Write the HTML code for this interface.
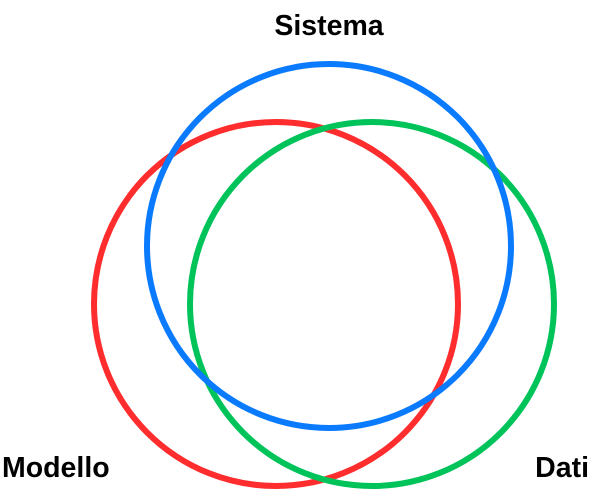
<!DOCTYPE html>
<html><head><style>
body{margin:0;background:#fff;}
svg{display:block;}
text{font-family:"Liberation Sans",Arial,sans-serif;font-weight:bold;font-size:28.5px;fill:#000;}
</style></head><body>
<svg width="602" height="489" viewBox="0 0 602 489">
<circle cx="276" cy="304" r="182" fill="none" stroke="#ff2d2d" stroke-width="6"/>
<circle cx="372" cy="304" r="182" fill="none" stroke="#00c35a" stroke-width="6"/>
<circle cx="329" cy="246" r="182" fill="none" stroke="#0a7bff" stroke-width="6"/>
<text x="329" y="35" text-anchor="middle">Sistema</text>
<text x="2" y="477">Modello</text>
<text x="589" y="477" text-anchor="end">Dati</text>
</svg>
</body></html>
